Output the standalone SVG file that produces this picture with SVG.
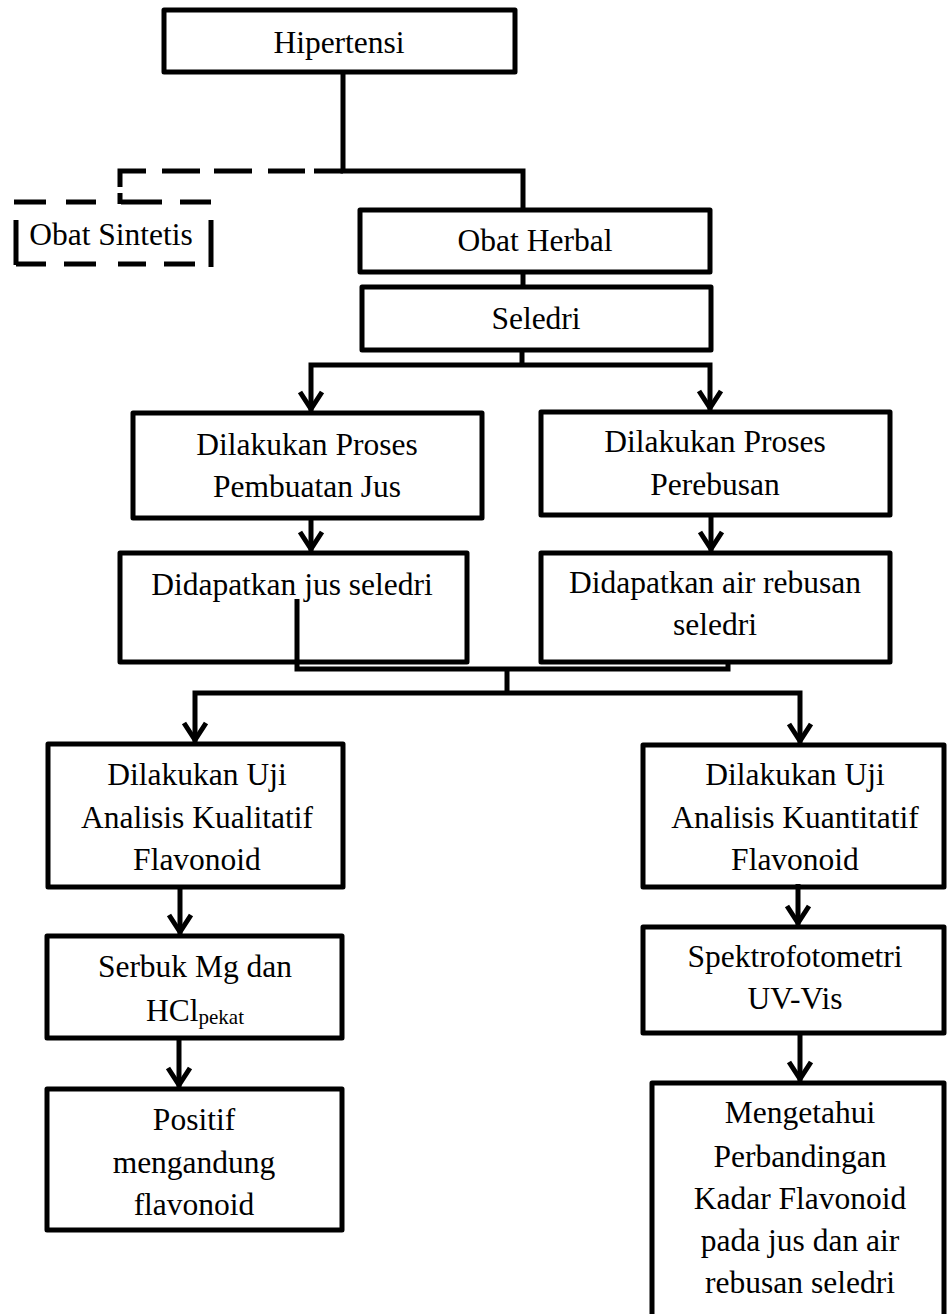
<svg xmlns="http://www.w3.org/2000/svg" width="947" height="1314" viewBox="0 0 947 1314">
<style>
.box{fill:#fff;stroke:#000;stroke-width:5;stroke-linejoin:round}
.t{font-family:"Liberation Serif","Times New Roman",serif;font-size:31.5px;fill:#000;text-anchor:middle}
.c{fill:none;stroke:#000;stroke-width:5;stroke-linejoin:miter}
.a{marker-end:url(#ah)}
</style>
<defs>
<marker id="ah" markerUnits="userSpaceOnUse" markerWidth="40" markerHeight="40" refX="0" refY="0" orient="auto" overflow="visible">
<path d="M-19,-11 L-2,0 L-19,11" fill="none" stroke="#000" stroke-width="5" stroke-linejoin="miter"/>
</marker>
</defs>
<rect width="947" height="1314" fill="#fff"/>

<g id="n1"><rect class="box" x="164" y="10" width="351" height="62"/><text class="t" x="339" y="53">Hipertensi</text></g>
<g id="n2">
<path class="c" d="M14 202 H46 M66 202 H96 M121 202 H162 M180 202 H211 M211 220 V267 M16 220 V265 M16 264 H46 M64 264 H96 M118 264 H146 M164 264 H195"/>
<text class="t" x="111" y="245">Obat Sintetis</text>
</g>
<g id="n3"><rect class="box" x="360" y="210" width="350" height="62"/><text class="t" x="535" y="251">Obat Herbal</text></g>
<g id="n4"><rect class="box" x="362" y="287" width="349" height="63"/><text class="t" x="536" y="329">Seledri</text></g>
<g id="n5"><rect class="box" x="133" y="413" width="349" height="105"/><text class="t" x="307" y="455">Dilakukan Proses</text><text class="t" x="307" y="497">Pembuatan Jus</text></g>
<g id="n6"><rect class="box" x="541" y="412" width="349" height="103"/><text class="t" x="715" y="452">Dilakukan Proses</text><text class="t" x="715" y="495">Perebusan</text></g>
<g id="n7"><rect class="box" x="120" y="553" width="347" height="109"/><text class="t" x="292" y="595">Didapatkan jus seledri</text></g>
<g id="n8"><rect class="box" x="541" y="553" width="349" height="109"/><text class="t" x="715" y="593">Didapatkan air rebusan</text><text class="t" x="715" y="635">seledri</text></g>
<g id="n9"><rect class="box" x="48" y="744" width="295" height="143"/><text class="t" x="197" y="785">Dilakukan Uji</text><text class="t" x="197" y="828">Analisis Kualitatif</text><text class="t" x="197" y="870">Flavonoid</text></g>
<g id="n10"><rect class="box" x="643" y="745" width="301" height="142"/><text class="t" x="795" y="785">Dilakukan Uji</text><text class="t" x="795" y="828">Analisis Kuantitatif</text><text class="t" x="795" y="870">Flavonoid</text></g>
<g id="n11"><rect class="box" x="47" y="936" width="295" height="102"/><text class="t" x="195" y="977">Serbuk Mg dan</text><text class="t" x="195" y="1021">HCl<tspan font-size="21" dy="3">pekat</tspan></text></g>
<g id="n12"><rect class="box" x="643" y="927" width="301" height="106"/><text class="t" x="795" y="967">Spektrofotometri</text><text class="t" x="795" y="1009">UV-Vis</text></g>
<g id="n13"><rect class="box" x="47" y="1089" width="295" height="141"/><text class="t" x="194" y="1130">Positif</text><text class="t" x="194" y="1173">mengandung</text><text class="t" x="194" y="1215">flavonoid</text></g>
<g id="n14"><rect class="box" x="652" y="1083" width="292" height="260"/><text class="t" x="800" y="1123">Mengetahui</text><text class="t" x="800" y="1167">Perbandingan</text><text class="t" x="800" y="1209">Kadar Flavonoid</text><text class="t" x="800" y="1251">pada jus dan air</text><text class="t" x="800" y="1293">rebusan seledri</text></g>

<g id="connectors">
<path class="c" d="M343 72 V171 H523 V210"/>
<path class="c" d="M343 171 H314 M305 171 H268 M252 171 H214 M200 171 H162 M146 171 H120 V187 M120 193 V204"/>
<path class="c" d="M523 272 V287"/>
<path class="c" d="M522 350 V365"/>
<path class="c a" d="M522 365 H311 V411"/>
<path class="c a" d="M522 365 H710 V410"/>
<path class="c a" d="M311 518 V551"/>
<path class="c a" d="M711 515 V551"/>
<path class="c" d="M297 599 V669 H728 V662"/>
<path class="c" d="M507 669 V693"/>
<path class="c a" d="M507 693 H195 V742"/>
<path class="c a" d="M507 693 H800 V743"/>
<path class="c a" d="M180 888 V934"/>
<path class="c a" d="M798 884 V925"/>
<path class="c a" d="M179 1038 V1087"/>
<path class="c a" d="M800 1033 V1081"/>
</g>
</svg>
